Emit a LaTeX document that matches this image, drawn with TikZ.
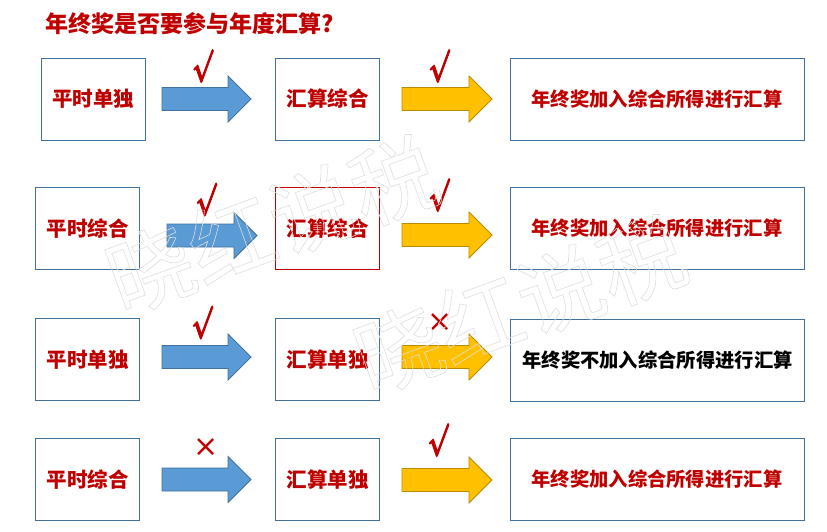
\documentclass[tikz,border=0pt]{standalone}
\usepackage{amsmath,amssymb}
\usepackage{fontspec}
\setmainfont{Noto Sans CJK SC}
\newfontfamily\markfont{DejaVu Sans}
\definecolor{dred}{HTML}{C00000}
\definecolor{bline}{HTML}{41719C}
\definecolor{bfill}{HTML}{5B9BD5}
\definecolor{yfill}{HTML}{FFC000}
\definecolor{yline}{HTML}{BC8C00}
\definecolor{wmark}{HTML}{DEDEDE}
\newcommand\chkglyph{\special{pdf:literal direct 2 Tr 1.1 w}\scalebox{0.85}[1.3]{$\boldsymbol{\surd}$}\special{pdf:literal direct 0 Tr}}
\begin{document}
\begin{tikzpicture}[x=1pt,y=-1pt,
  box/.style={draw=bline,line width=1pt,fill=white,minimum height=82pt,inner sep=0pt,
    font=\fontsize{20.5}{20.5}\selectfont\bfseries,text=dred},
  sbox/.style={box,minimum width=104pt},
  wbox/.style={box,minimum width=294pt,font=\fontsize{19.3}{19.3}\selectfont\bfseries},
  barr/.style={fill=bfill,draw=bline,line width=0.8pt},
  yarr/.style={fill=yfill,draw=yline,line width=0.8pt},
  chk/.style={text=dred,font=\fontsize{26}{26}\selectfont,inner sep=0pt},
  crs/.style={text=dred,font=\markfont\fontsize{30}{30}\selectfont,inner sep=0pt},
  wm/.style={text=wmark,font=\fontsize{86}{86}\selectfont,rotate=20,inner sep=0pt}
]
\newcommand\blkarrow[4]{%
  \filldraw[#1] (#2,#3-11.5) -- (#2+#4-23,#3-11.5) -- (#2+#4-23,#3-23) -- (#2+#4,#3)
   -- (#2+#4-23,#3+23) -- (#2+#4-23,#3+11.5) -- (#2,#3+11.5) -- cycle;}
\useasboundingbox[fill=white] (0,0) rectangle (827,531);

\node[anchor=west,text=dred,font=\fontsize{23}{23}\selectfont\bfseries,inner sep=0pt] (title) at (45,24) {年终奖是否要参与年度汇算?};

% row 1
\node[sbox] (a1) at (93,99) {平时单独};
\node[sbox] (b1) at (327.5,99) {汇算综合};
\node[wbox] (c1) at (657,99) {年终奖加入综合所得进行汇算};
\blkarrow{barr}{162}{99}{89}
\blkarrow{yarr}{402}{99}{90}
\node[chk] (k1a) at (202.5,66) {\chkglyph};
\node[chk] (k1b) at (439,66) {\chkglyph};

% row 2
\node[sbox] (a2) at (87.5,228.5) {平时综合};
\node[sbox,draw=dred] (b2) at (327.5,228.5) {汇算综合};
\node[wbox] (c2) at (657,228.5) {年终奖加入综合所得进行汇算};
\blkarrow{barr}{167}{235.5}{90}
\blkarrow{yarr}{402}{235}{90}
\node[chk] (k2a) at (206,199.5) {\chkglyph};
\node[chk] (k2b) at (439,195) {\chkglyph};

% row 3
\node[sbox] (a3) at (87.5,359.5) {平时单独};
\node[sbox] (b3) at (327.5,359.5) {汇算单独};
\node[wbox,text=black] (c3) at (657.5,360.5) {年终奖不加入综合所得进行汇算};
\blkarrow{barr}{162}{357}{89}
\blkarrow{yarr}{402}{357}{90}
\node[chk] (k3a) at (202,322.5) {\chkglyph};
\node[crs] (x3b) at (440,323) {×};

% row 4
\node[sbox] (a4) at (87.5,479.5) {平时综合};
\node[sbox] (b4) at (327.5,479.5) {汇算单独};
\node[wbox] (c4) at (657,479.5) {年终奖加入综合所得进行汇算};
\blkarrow{barr}{162}{479.5}{89}
\blkarrow{yarr}{402}{480}{90}
\node[crs] (x4a) at (206,447.5) {×};
\node[chk] (k4b) at (438,440) {\chkglyph};

% watermark
\node[wm] (wm1) at (272,225) {\special{pdf:literal direct 1 Tr 0.6 w}晓红说税\special{pdf:literal direct 0 Tr}};
\node[wm] (wm2) at (520,305) {\special{pdf:literal direct 1 Tr 0.6 w}晓红说税\special{pdf:literal direct 0 Tr}};
\end{tikzpicture}
\end{document}
